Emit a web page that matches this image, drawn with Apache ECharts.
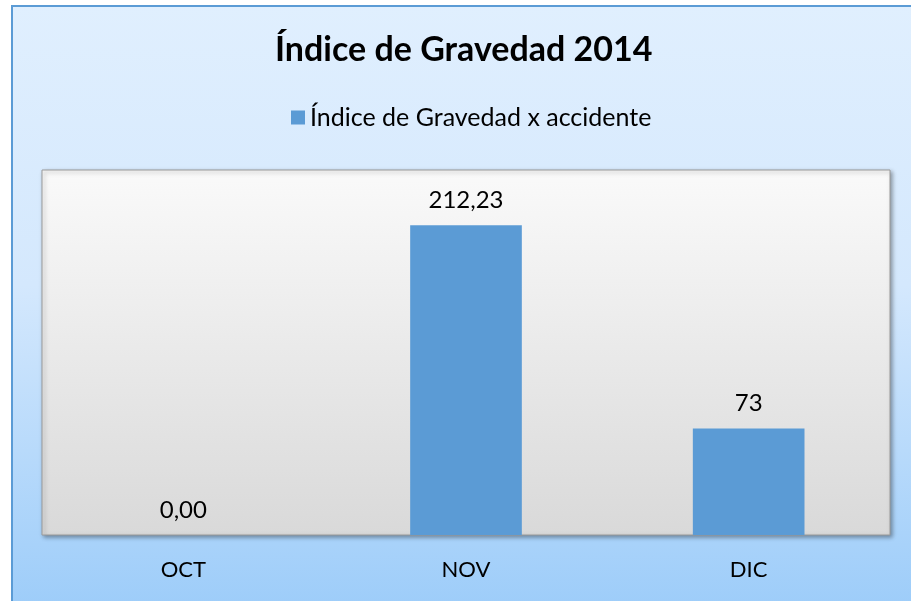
<!DOCTYPE html>
<html>
<head>
<meta charset="utf-8">
<script src="https://cdn.jsdelivr.net/npm/echarts@6/dist/echarts.min.js"></script>
<style>html,body{margin:0;padding:0;background:#fff;}#c{width:911px;height:601px;}</style>
</head>
<body>
<div id="c"></div>
<script>
var categories = ['OCT', 'NOV', 'DIC'];
var values = [0, 212.23, 73];
var valueLabels = ['0,00', '212,23', '73'];
var seriesName = 'Índice de Gravedad x accidente';
var titleText = 'Índice de Gravedad 2014';

var chart = echarts.init(document.getElementById('c'));
var font = 'Lato, "Open Sans", sans-serif';
chart.setOption({
  backgroundColor: '#ffffff',
  animation: false,
  graphic: [{
    type: 'rect', z: -10,
    shape: { x: 12, y: 6, width: 920, height: 620 },
    style: {
      fill: new echarts.graphic.LinearGradient(0, 0, 0, 1, [
        { offset: 0, color: '#E0EFFE' },
        { offset: 0.45, color: '#D4E8FD' },
        { offset: 1, color: '#9ACBF9' }
      ]),
      stroke: '#5B9BD5', lineWidth: 2
    }
  }],
  title: {
    text: titleText, left: 270, top: 28, padding: 5,
    textStyle: { fontFamily: font, fontSize: 34, fontWeight: 'bold', color: '#000' }
  },
  legend: {
    data: [seriesName], top: 100, left: 286, padding: 5,
    icon: 'rect', itemWidth: 14, itemHeight: 14, itemGap: 6,
    textStyle: { fontFamily: font, fontSize: 25, color: '#000' }
  },
  grid: {
    left: 42, right: 21, top: 170, bottom: 66,
    show: true,
    backgroundColor: new echarts.graphic.LinearGradient(0, 0, 0, 1, [
      { offset: 0, color: '#FAFAFA' },
      { offset: 1, color: '#D9D9D9' }
    ]),
    borderColor: '#9A9A9A', borderWidth: 1,
    shadowColor: 'rgba(0,0,0,0.35)', shadowBlur: 4, shadowOffsetX: 2, shadowOffsetY: 2
  },
  xAxis: {
    type: 'category', data: categories,
    axisLine: { show: false }, axisTick: { show: false },
    axisLabel: { fontFamily: font, fontSize: 22, color: '#000', margin: 24 }
  },
  yAxis: {
    type: 'value', min: 0, max: 250, interval: 50,
    show: false, splitLine: { show: false }
  },
  series: [{
    name: seriesName, type: 'bar', data: values, barWidth: '39.5%',
    itemStyle: { color: '#5B9BD5' },
    label: {
      show: true, position: 'top', distance: 13,
      fontFamily: font, fontSize: 24, color: '#000',
      formatter: function (p) { return valueLabels[p.dataIndex]; }
    }
  }]
});
</script>
</body>
</html>
